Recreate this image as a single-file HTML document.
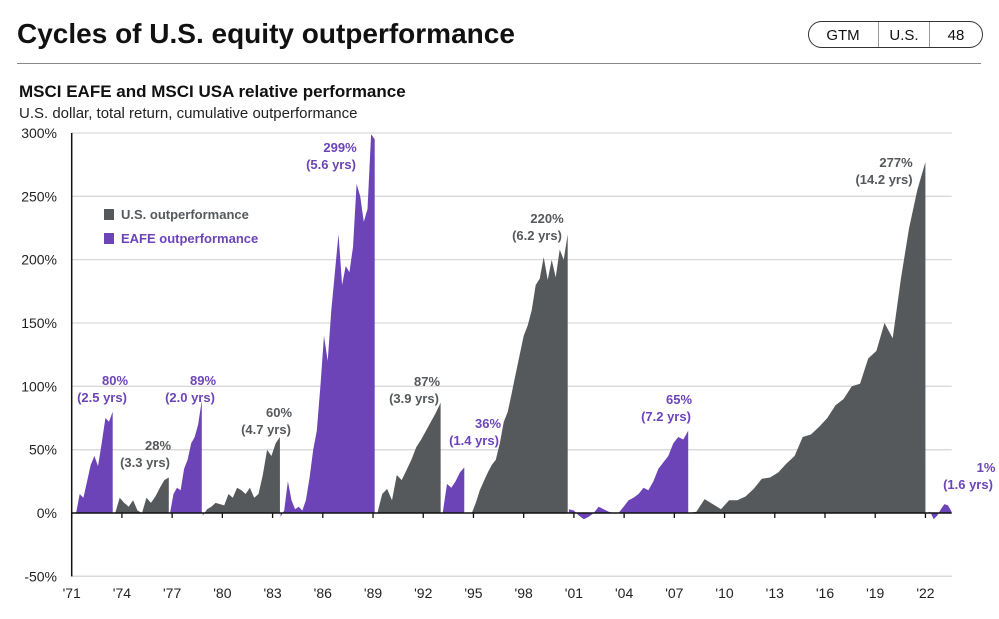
<!DOCTYPE html>
<html><head><meta charset="utf-8"><style>
body{margin:0;background:#fff;font-family:"Liberation Sans",Arial,sans-serif;}
#wrap{position:relative;width:999px;height:619px;overflow:hidden;}
</style></head><body>
<div id="wrap">
<svg id="chart" width="999" height="619" xmlns="http://www.w3.org/2000/svg">
  <text x="17" y="43" font-size="28" font-weight="bold" fill="#111">Cycles of U.S. equity outperformance</text>
  <g>
    <rect x="808.5" y="21.5" width="174" height="26" rx="13" fill="#fff" stroke="#333" stroke-width="1"/>
    <line x1="878.5" y1="22" x2="878.5" y2="47" stroke="#999"/>
    <line x1="929.5" y1="22" x2="929.5" y2="47" stroke="#999"/>
    <text x="843" y="40" font-size="15" text-anchor="middle" fill="#111">GTM</text>
    <text x="904" y="40" font-size="15" text-anchor="middle" fill="#111">U.S.</text>
    <text x="956" y="40" font-size="15" text-anchor="middle" fill="#111">48</text>
  </g>
  <line x1="17" y1="63.5" x2="981" y2="63.5" stroke="#888"/>
  <text x="19" y="97" font-size="17" font-weight="bold" fill="#111">MSCI EAFE and MSCI USA relative performance</text>
  <text x="19" y="118" font-size="15" fill="#222">U.S. dollar, total return, cumulative outperformance</text>
  <g id="grid"></g>
  <g id="areas"></g>
  <g id="axes"></g>
  <g id="labels"></g>
  <g>
    <rect x="104" y="209" width="10" height="11" fill="#55595c"/>
    <text x="121" y="219" font-size="13" fill="#55595c" font-weight="bold">U.S. outperformance</text>
    <rect x="104" y="233" width="10" height="11" fill="#6c44b8"/>
    <text x="121" y="243" font-size="13" fill="#6c44b8" font-weight="bold">EAFE outperformance</text>
  </g>
</svg>
</div>
<script>
const yTicks=[300,250,200,150,100,50,0,-50];
const xTickYears=[1971,1974,1977,1980,1983,1986,1989,1992,1995,1998,2001,2004,2007,2010,2013,2016,2019,2022];
const cycleType=["eafe","us","eafe","us","eafe","us","eafe","us","eafe","us","eafe"];
const cycleStart=[1971.26,1973.6,1976.87,1978.83,1983.48,1989.26,1993.16,1994.9,2000.7,2007.83,2022.07];
const cycleEnd=[1973.45,1976.8,1978.77,1983.44,1989.1,1993.04,1994.45,2000.63,2007.83,2022.0,2023.56];
const c1=[0,15,12,25,38,45,37,55,75,72,80];
const c2=[0,12,8,5,10,2,0,12,8,13,20,26,28];
const c3=[0,15,20,18,35,42,55,60,70,89];
const c4=[-2,3,5,8,7,6,15,12,20,18,15,20,12,15,30,50,45,55,60];
const c5=[-3,2,25,10,3,5,2,10,28,50,65,100,140,120,160,190,220,180,195,190,210,260,250,230,240,299,295];
const c6=[0,15,19,10,30,26,34,42,52,58,65,72,79,87];
const c7=[0,23,20,25,32,36];
const c8=[0,8,18,25,32,38,42,55,72,80,95,110,125,140,148,160,180,185,202,184,200,186,208,200,220];
const c9=[3,2,-2,-5,-3,0,5,3,1,0,0,5,10,12,15,20,18,25,35,40,45,55,60,58,65];
const c10=[0,1,11,7,3,10,10,13,19,27,28,32,39,45,60,62,68,75,85,90,100,102,122,128,150,138,185,225,255,277];
const c11=[0,1,-5,-2,3,7,6,1];
const cycleValues=[c1,c2,c3,c4,c5,c6,c7,c8,c9,c10,c11];
const labelTop=["80%","28%","89%","60%","299%","87%","36%","220%","65%","277%","1%"];
const labelBot=["(2.5 yrs)","(3.3 yrs)","(2.0 yrs)","(4.7 yrs)","(5.6 yrs)","(3.9 yrs)","(1.4 yrs)","(6.2 yrs)","(7.2 yrs)","(14.2 yrs)","(1.6 yrs)"];

const NS="http://www.w3.org/2000/svg";
const X0=71.7,PXY=16.74,Y0=513,PXV=1.2667,XR=951.7;
function xs(yr){return X0+(yr-1971)*PXY;}
function ys(v){return Y0-v*PXV;}
const col={us:"#55595c",eafe:"#6c44b8"};
function mk(tag,attrs,parent){const e=document.createElementNS(NS,tag);for(const k in attrs)e.setAttribute(k,attrs[k]);parent.appendChild(e);return e;}
const grid=document.getElementById('grid'),areas=document.getElementById('areas'),axes=document.getElementById('axes'),labels=document.getElementById('labels');
yTicks.forEach(v=>{
  if(v!==0){const l=mk('line',{x1:X0,x2:XR,y1:ys(v),y2:ys(v),stroke:'#d9d9d9','stroke-width':1.3},grid);
  
  }
  const t=mk('text',{x:57,y:ys(v)+5,'font-size':14,'text-anchor':'end',fill:'#222'},axes);
  t.textContent=v+'%';
  
  
});
cycleValues.forEach((vals,i)=>{
  const s=cycleStart[i],e=cycleEnd[i],n=vals.length;
  let d='M'+xs(s)+','+ys(0);
  vals.forEach((v,j)=>{const yr=s+(e-s)*j/(n-1);d+=' L'+xs(yr).toFixed(1)+','+ys(v).toFixed(1);});
  d+=' L'+xs(e)+','+ys(0)+' Z';
  const p=mk('path',{d:d,fill:col[cycleType[i]]},areas);
  
  
  const peak=vals[vals.length-1]>Math.max(...vals)*0.9?vals[vals.length-1]:Math.max(...vals);
});
const yax=mk('line',{x1:X0,x2:X0,y1:ys(300),y2:ys(-50),stroke:'#111','stroke-width':1.5},axes);


const zl=mk('line',{x1:X0,x2:XR,y1:Y0,y2:Y0,stroke:'#111','stroke-width':1.5},axes);


const bl=mk('line',{x1:X0,x2:XR,y1:ys(-50),y2:ys(-50),stroke:'#d9d9d9','stroke-width':1.3},grid);


xTickYears.forEach(yr=>{
  const tk=mk('line',{x1:xs(yr),x2:xs(yr),y1:Y0,y2:Y0+5,stroke:'#111','stroke-width':1.3},axes);
  
  
  const t=mk('text',{x:xs(yr),y:598,'font-size':14,'text-anchor':'middle',fill:'#222'},axes);
  t.textContent="'"+String(yr).slice(2);
  
  
});
// label anchor positions (layout)
const labPos=[[115,380],[158,445],[203,380],[279,412],[340,147],[427,381],[488,423],[547,218],[679,399],[896,162],[986,467]];
const labShift=[-13,-13,-13,-13,-9,-13,-14,-10,-13,-12,-18];
labelTop.forEach((txt,i)=>{
  const c=col[cycleType[i]];
  const [x,y]=labPos[i];
  const t1=mk('text',{x:x,y:y+5,'font-size':13,'font-weight':'bold','text-anchor':'middle',fill:c},labels);
  t1.textContent=txt;
  
  
  const t2=mk('text',{x:x+labShift[i],y:y+22,'font-size':13,'font-weight':'bold','text-anchor':'middle',fill:c},labels);
  t2.textContent=labelBot[i];
  
  
});
</script>
</body></html>
